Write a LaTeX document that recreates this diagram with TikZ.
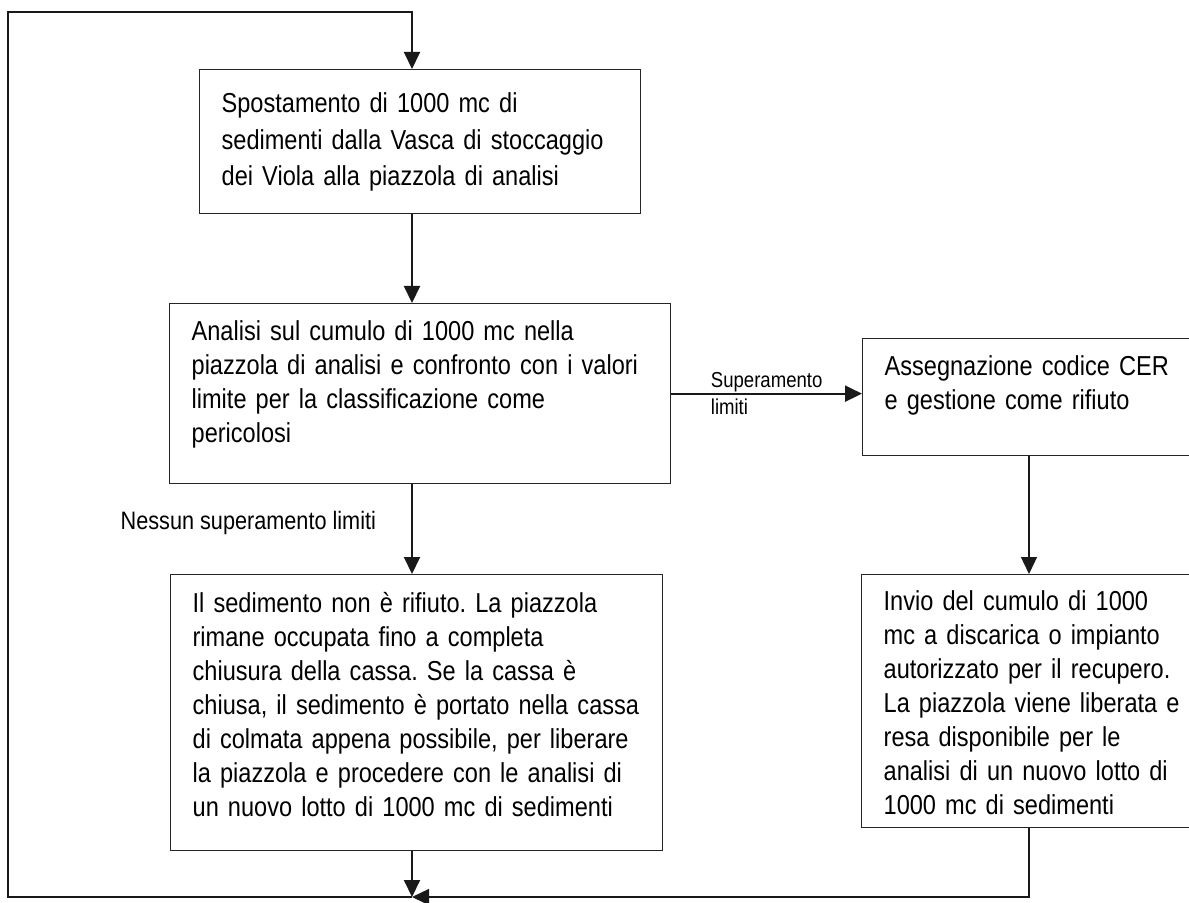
\documentclass[tikz,border=0pt]{standalone}
\usepackage{fontspec}
\setmainfont{Liberation Sans}[FakeStretch=0.86]
\usetikzlibrary{arrows.meta}
\newcommand{\boxfont}{\fontsize{13.7}{17}\selectfont}
\frenchspacing

\begin{document}
\begin{tikzpicture}[x=0.5pt, y=-0.5pt,
	stepbox/.style={rectangle, draw=black!85, line width=0.65pt, anchor=north west, align=left, inner xsep=11pt, inner ysep=0pt, text height=18.5pt, font=\boxfont},
	flow/.style={draw=black!90, line width=1pt, -{Triangle[length=8.5pt,width=8pt]}},
	thinflow/.style={flow, line width=0.65pt},
	lbl/.style={inner sep=0pt, align=left}]
	\path[use as bounding box] (0,0) rectangle (1189,903);
	\clip (0,0) rectangle (1189,903);

	% boxes (the two on the right run past the page edge)
	\node[stepbox, text width=198.5pt, text height=21.5pt, text depth=50.5pt, font=\fontsize{13.7}{18.25}\selectfont] (spost) at (199,69)
		{Spostamento di 1000 mc di\\sedimenti dalla Vasca di stoccaggio\\dei Viola alla piazzola di analisi};
	\node[stepbox, text width=228.5pt, text depth=71.5pt] (analisi) at (169,303)
		{Analisi sul cumulo di 1000 mc nella\\piazzola di analisi e confronto con i valori\\limite per la classificazione come\\pericolosi};
	\node[stepbox, text width=170pt, text depth=40pt] (cer) at (862,338)
		{Assegnazione codice CER\\e gestione come rifiuto};
	\node[stepbox, text width=224pt, text height=19pt, text depth=119pt] (nonrif) at (170,574)
		{Il sedimento non è rifiuto. La piazzola\\rimane occupata fino a completa\\chiusura della cassa. Se la cassa è\\chiusa, il sedimento è portato nella cassa\\di colmata appena possibile, per liberare\\la piazzola e procedere con le analisi di\\un nuovo lotto di 1000 mc di sedimenti};
	\node[stepbox, text width=170pt, text height=18pt, text depth=108.5pt] (invio) at (861,574)
		{Invio del cumulo di 1000\\mc a discarica o impianto\\autorizzato per il recupero.\\La piazzola viene liberata e\\resa disponibile per le\\analisi di un nuovo lotto di\\1000 mc di sedimenti};

	% loop corners
	\coordinate (top) at (412,12);
	\coordinate (ltop) at (8,12);
	\coordinate (lbot) at (8,897);
	\coordinate (merge) at (412,897);
	\coordinate (rbot) at (1029,897);

	\draw[flow] (merge) -- (lbot) -- (ltop) -- (top) -- (spost.north -| top);
	\draw[flow] (spost.south -| top) -- (analisi.north -| top);
	\draw[flow] (analisi.east) -- node[lbl, midway, font=\fontsize{10.8}{13.5}\selectfont] {Superamento\\limiti} (analisi.east -| cer.west);
	\draw[flow] (analisi.south -| top) -- node[lbl, midway, anchor=base east, xshift=-17.5pt, font=\fontsize{12.6}{15}\selectfont] {Nessun superamento limiti} (nonrif.north -| top);
	\draw[thinflow] (cer.south -| rbot) -- (invio.north -| rbot);
	\draw[flow] (nonrif.south -| top) -- (merge);
	\draw[thinflow] (invio.south -| rbot) -- (rbot) -- (merge);
\end{tikzpicture}
\end{document}
